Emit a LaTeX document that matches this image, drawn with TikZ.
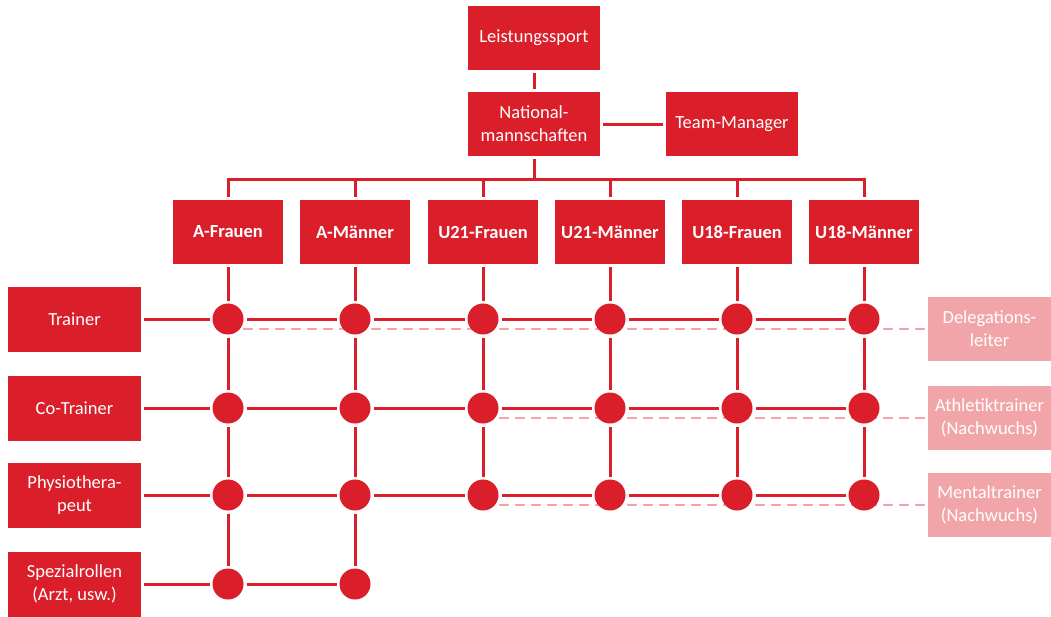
\documentclass[tikz,border=0pt]{standalone}
\usepackage{fontspec}
\setmainfont{Carlito}
\usepackage{tikz}
\usetikzlibrary{backgrounds}
\definecolor{verbandrot}{HTML}{DA1F2A}
\definecolor{verbandrosa}{HTML}{F2A5A8}
\tikzset{
  box/.style={fill=verbandrot, text=white, minimum width=132pt, minimum height=64pt,
    inner sep=2pt, outer sep=3pt, align=center, font=\fontsize{18.5}{23}\selectfont},
  teambox/.style={box, minimum width=110pt, font=\fontsize{18.5}{23}\selectfont\bfseries},
  rollebox/.style={box, minimum width=133pt, minimum height=65pt},
  extrabox/.style={box, fill=verbandrosa, minimum width=123pt},
  kreis/.style={circle, fill=verbandrot, minimum size=31pt, inner sep=0pt, outer sep=3pt},
  conn/.style={draw=verbandrot, line width=3pt},
  dashline/.style={draw=verbandrosa, line width=2pt, dash pattern=on 10pt off 6pt},
}

\begin{document}
\begin{tikzpicture}[x=1pt,y=-1pt]
\useasboundingbox (0,0) rectangle (1051,616);
% Leitung
\node[box] (leist) at (534,38) {Leistungssport};
\node[box] (natio) at (534,124) {National-\\mannschaften};
\node[box] (teamm) at (732,124) {Team-Manager};
\coordinate (bus) at (534,179);
% Teams
\node[teambox] (afr) at (228,232) {A-Frauen};
\node[teambox] (amn) at (355,232) {A-Männer};
\node[teambox] (u21f) at (483,232) {U21-Frauen};
\node[teambox] (u21m) at (610,232) {U21-Männer};
\node[teambox] (u18f) at (737,232) {U18-Frauen};
\node[teambox] (u18m) at (864,232) {U18-Männer};
% Rollen
\node[rollebox] (trai) at (74.5,319) {Trainer};
\node[rollebox] (cotr) at (74.5,408) {Co-Trainer};
\node[rollebox] (phys) at (74.5,495) {Physiothera-\\peut};
\node[rollebox] (spez) at (74.5,584) {Spezialrollen\\(Arzt, usw.)};
\node[extrabox] (deleg) at (989.5,329) {Delegations-\\leiter};
\node[extrabox] (athl) at (989.5,418) {Athletiktrainer\\(Nachwuchs)};
\node[extrabox] (ment) at (989.5,505) {Mentaltrainer\\(Nachwuchs)};
% Kreuzungen
\node[kreis] (tr1) at (228,319) {};
\node[kreis] (tr2) at (355,319) {};
\node[kreis] (tr3) at (483,319) {};
\node[kreis] (tr4) at (610,319) {};
\node[kreis] (tr5) at (737,319) {};
\node[kreis] (tr6) at (864,319) {};
\node[kreis] (co1) at (228,408) {};
\node[kreis] (co2) at (355,408) {};
\node[kreis] (co3) at (483,408) {};
\node[kreis] (co4) at (610,408) {};
\node[kreis] (co5) at (737,408) {};
\node[kreis] (co6) at (864,408) {};
\node[kreis] (ph1) at (228,495) {};
\node[kreis] (ph2) at (355,495) {};
\node[kreis] (ph3) at (483,495) {};
\node[kreis] (ph4) at (610,495) {};
\node[kreis] (ph5) at (737,495) {};
\node[kreis] (ph6) at (864,495) {};
\node[kreis] (sp1) at (228,584) {};
\node[kreis] (sp2) at (355,584) {};
% Linien
\draw[conn] (leist) -- (natio);
\draw[conn] (natio) -- (teamm);
\draw[conn] (natio.south) |- (afr.north |- bus) -- (afr.north);
\draw[conn] (natio.south) |- (amn.north |- bus) -- (amn.north);
\draw[conn] (natio.south) |- (u21f.north |- bus) -- (u21f.north);
\draw[conn] (natio.south) |- (u21m.north |- bus) -- (u21m.north);
\draw[conn] (natio.south) |- (u18f.north |- bus) -- (u18f.north);
\draw[conn] (natio.south) |- (u18m.north |- bus) -- (u18m.north);
\draw[conn] (afr) -- (tr1) -- (co1) -- (ph1) -- (sp1);
\draw[conn] (amn) -- (tr2) -- (co2) -- (ph2) -- (sp2);
\draw[conn] (u21f) -- (tr3) -- (co3) -- (ph3);
\draw[conn] (u21m) -- (tr4) -- (co4) -- (ph4);
\draw[conn] (u18f) -- (tr5) -- (co5) -- (ph5);
\draw[conn] (u18m) -- (tr6) -- (co6) -- (ph6);
\draw[conn] (trai) -- (tr1) -- (tr2) -- (tr3) -- (tr4) -- (tr5) -- (tr6);
\draw[conn] (cotr) -- (co1) -- (co2) -- (co3) -- (co4) -- (co5) -- (co6);
\draw[conn] (phys) -- (ph1) -- (ph2) -- (ph3) -- (ph4) -- (ph5) -- (ph6);
\draw[conn] (spez) -- (sp1) -- (sp2);
% gestrichelt
\begin{scope}[on background layer]
\draw[dashline] (deleg) -- (deleg.west -| tr1);
\draw[dashline] (athl) -- (athl.west -| co3);
\draw[dashline] (ment) -- (ment.west -| ph3);
\end{scope}
\end{tikzpicture}
\end{document}
